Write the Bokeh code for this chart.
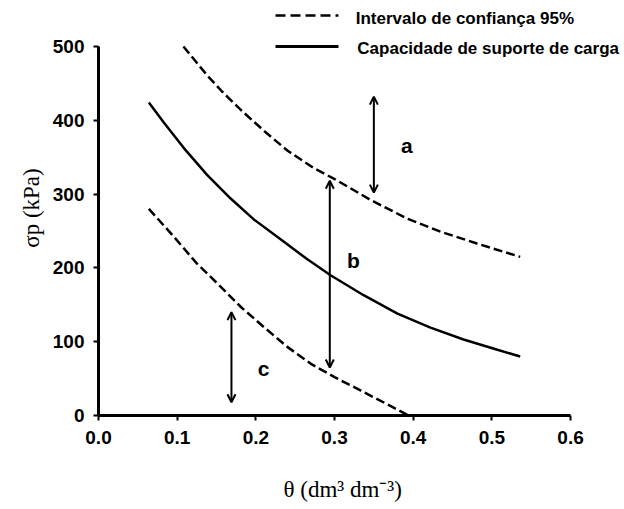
from bokeh.plotting import figure
from bokeh.models import Range1d, FixedTicker, Arrow, OpenHead, Label, NumeralTickFormatter, Title
from bokeh.embed import file_html
from bokeh.resources import INLINE

# Capacidade de suporte de carga (solid)
x_mid = [0.064, 0.083, 0.108, 0.138, 0.168, 0.197, 0.231, 0.265, 0.295, 0.337, 0.380, 0.422, 0.464, 0.507, 0.536]
y_mid = [424, 397, 363, 326, 294, 266, 239, 212, 190, 163, 138, 119, 103, 89, 80]

# Intervalo de confiança 95% - upper
x_up = [0.108, 0.138, 0.157, 0.181, 0.210, 0.240, 0.274, 0.299, 0.346, 0.392, 0.435, 0.481, 0.536]
y_up = [500, 461, 439, 414, 386, 359, 335, 321, 292, 267, 249, 233, 215]

# Intervalo de confiança 95% - lower
x_lo = [0.064, 0.096, 0.125, 0.151, 0.181, 0.210, 0.240, 0.270, 0.300, 0.333, 0.371, 0.394]
y_lo = [280, 242, 206, 179, 147, 120, 93, 70, 52, 34, 13, 0]

# double arrows (x, y_bottom, y_top) and their letters
arrow_names = ["a", "b", "c"]
arrow_x = [0.350, 0.294, 0.169]
arrow_y0 = [302, 65, 18]
arrow_y1 = [432, 318, 140]
letter_x = [0.392, 0.324, 0.210]
letter_y = [366, 210, 64]

x_ticks = [0.0, 0.1, 0.2, 0.3, 0.4, 0.5, 0.6]
y_ticks = [0, 100, 200, 300, 400, 500]

# frame spans up to the top/right edges so the legend can sit inside it;
# axis lines are bounded to the data extent.
p = figure(width=624, height=509, output_backend="svg", toolbar_location=None,
           x_range=Range1d(0, 0.6686), y_range=Range1d(0, 562.3),
           min_border_left=98, min_border_right=0, min_border_top=0, min_border_bottom=94)
p.outline_line_color = None
p.xgrid.visible = False
p.ygrid.visible = False
p.background_fill_color = "white"
p.border_fill_color = "white"

p.line(x_mid, y_mid, line_color="black", line_width=2.5)
p.line(x_up, y_up, line_color="black", line_width=2.5, line_dash="9 4")
p.line(x_lo, y_lo, line_color="black", line_width=2.5, line_dash="9 4")

for name, ax, a0, a1, lx, ly in zip(arrow_names, arrow_x, arrow_y0, arrow_y1, letter_x, letter_y):
    p.add_layout(Arrow(start=OpenHead(size=8, line_width=2), end=OpenHead(size=8, line_width=2),
                       x_start=ax, y_start=a0, x_end=ax, y_end=a1, line_width=2))
    p.add_layout(Label(x=lx, y=ly, text=name, text_font="Liberation Sans", text_font_style="bold",
                       text_font_size="21px", text_align="center", text_baseline="middle",
                       text_color="black"))

# legend (drawn above the data area)
p.add_layout(Arrow(end=None, x_start=0.225, y_start=542, x_end=0.305, y_end=542,
                   line_width=2.5, line_dash="10 5"))
p.add_layout(Arrow(end=None, x_start=0.225, y_start=500, x_end=0.305, y_end=500,
                   line_width=3))
p.add_layout(Label(x=0.327, y=538, text="Intervalo de confiança 95%", text_font="Liberation Sans",
                   text_font_style="bold", text_font_size="17px", text_baseline="middle",
                   text_color="black"))
p.add_layout(Label(x=0.329, y=497, text="Capacidade de suporte de carga", text_font="Liberation Sans",
                   text_font_style="bold", text_font_size="17px", text_baseline="middle",
                   text_color="black"))

for ax in (p.xaxis[0], p.yaxis[0]):
    ax.axis_line_width = 3
    ax.axis_line_color = "black"
    ax.major_tick_line_width = 2
    ax.major_tick_out = 5
    ax.major_tick_in = 0
    ax.minor_tick_line_color = None
    ax.major_label_text_font = "Liberation Sans"
    ax.major_label_text_font_style = "bold"
    ax.major_label_text_font_size = "19px"
    ax.major_label_text_color = "black"
    ax.axis_label_text_font = "Liberation Serif"
    ax.axis_label_text_font_style = "normal"
    ax.axis_label_text_font_size = "23px"
    ax.axis_label_text_color = "black"

p.xaxis.bounds = (0, 0.6)
p.yaxis.bounds = (0, 500)
p.xaxis.ticker = FixedTicker(ticks=x_ticks)
p.yaxis.ticker = FixedTicker(ticks=y_ticks)
p.xaxis.formatter = NumeralTickFormatter(format="0.0")
p.yaxis.formatter = NumeralTickFormatter(format="0")
p.xaxis.major_label_standoff = 10
p.yaxis.major_label_standoff = 9
p.yaxis.axis_label = "σp (kPa)"
p.yaxis.axis_label_standoff = 6
# spacer label on the x axis to push the title below it
p.xaxis.axis_label = " "
p.xaxis.axis_label_text_font_size = "1px"
p.xaxis.axis_label_standoff = 24

# x-axis title, centred under the 0.0–0.6 axis rather than the wider frame
p.add_layout(Title(text="θ (dm³ dm⁻³)", align="left", offset=185, standoff=0,
                   text_font="Liberation Serif", text_font_size="23px",
                   text_font_style="normal", text_color="black"), "below")

open("out.html", "w").write(file_html(p, INLINE))
